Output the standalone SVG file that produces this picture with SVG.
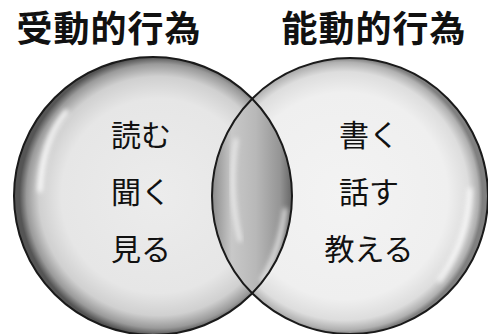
<svg xmlns="http://www.w3.org/2000/svg" width="488" height="334" viewBox="0 0 488 334">
  <style>
    .title { font-family: "Noto Sans CJK JP", "Noto Sans", sans-serif; font-weight: 700; font-size: 36px; letter-spacing: 1px; fill: #111; text-anchor: middle; }
    .item { font-family: "Noto Sans CJK JP", "Noto Sans", sans-serif; font-weight: 400; font-size: 30px; fill: #111; text-anchor: middle; }
    .rim { fill: none; stroke: #1a1a1a; stroke-width: 2; }
  </style>
  <defs>
    <radialGradient id="gLeft" cx="0.52" cy="0.5" r="0.5">
      <stop offset="0" stop-color="#ececec"/>
      <stop offset="0.7" stop-color="#e6e6e6"/>
      <stop offset="0.86" stop-color="#d0d0d0"/>
      <stop offset="0.95" stop-color="#9a9a9a"/>
      <stop offset="1" stop-color="#555555"/>
    </radialGradient>
    <radialGradient id="gRight" cx="0.48" cy="0.5" r="0.5">
      <stop offset="0" stop-color="#f3f3f3"/>
      <stop offset="0.75" stop-color="#efefef"/>
      <stop offset="0.9" stop-color="#dddddd"/>
      <stop offset="0.97" stop-color="#b0b0b0"/>
      <stop offset="1" stop-color="#808080"/>
    </radialGradient>
    <linearGradient id="gLens" x1="0" y1="0" x2="1" y2="0">
      <stop offset="0" stop-color="#8a8a8a"/>
      <stop offset="0.25" stop-color="#c8c8c8"/>
      <stop offset="0.55" stop-color="#b8b8b8"/>
      <stop offset="0.85" stop-color="#959595"/>
      <stop offset="1" stop-color="#666666"/>
    </linearGradient>
    <filter id="blur" x="-50%" y="-50%" width="200%" height="200%">
      <feGaussianBlur stdDeviation="2.5"/>
    </filter>
  </defs>

  <g id="node-passive">
    <circle cx="153" cy="196" r="139" fill="url(#gLeft)"/>
    <path d="M40,190 Q42,140 66,112" fill="none" stroke="#ffffff" stroke-width="5" stroke-linecap="round" filter="url(#blur)" opacity="0.9"/>
    <text class="title" x="109" y="42">受動的行為</text>
    <text class="item" x="141" y="146">読む</text>
    <text class="item" x="141" y="203">聞く</text>
    <text class="item" x="141" y="260">見る</text>
  </g>

  <g id="node-active">
    <circle cx="350" cy="196" r="138" fill="url(#gRight)"/>
    <path d="M470,190 Q468,240 440,280" fill="none" stroke="#ffffff" stroke-width="5" stroke-linecap="round" filter="url(#blur)" opacity="0.8"/>
    <text class="title" x="374" y="42">能動的行為</text>
    <text class="item" x="369" y="146">書く</text>
    <text class="item" x="369" y="203">話す</text>
    <text class="item" x="369" y="260">教える</text>
  </g>

  <g id="node-overlap">
    <path d="M252,98.4 A138,138 0 0,0 252,293.6 A139,139 0 0,0 252,98.4 Z" fill="url(#gLens)"/>
    <path d="M236,140 Q228,190 240,240" fill="none" stroke="#ffffff" stroke-width="4" stroke-linecap="round" filter="url(#blur)" opacity="0.7"/>
    <path d="M285,210 Q280,250 262,280" fill="none" stroke="#ffffff" stroke-width="4" stroke-linecap="round" filter="url(#blur)" opacity="0.8"/>
  </g>

  <g id="connectors">
    <circle class="rim" cx="153" cy="196" r="139"/>
    <circle class="rim" cx="350" cy="196" r="138"/>
  </g>
</svg>
